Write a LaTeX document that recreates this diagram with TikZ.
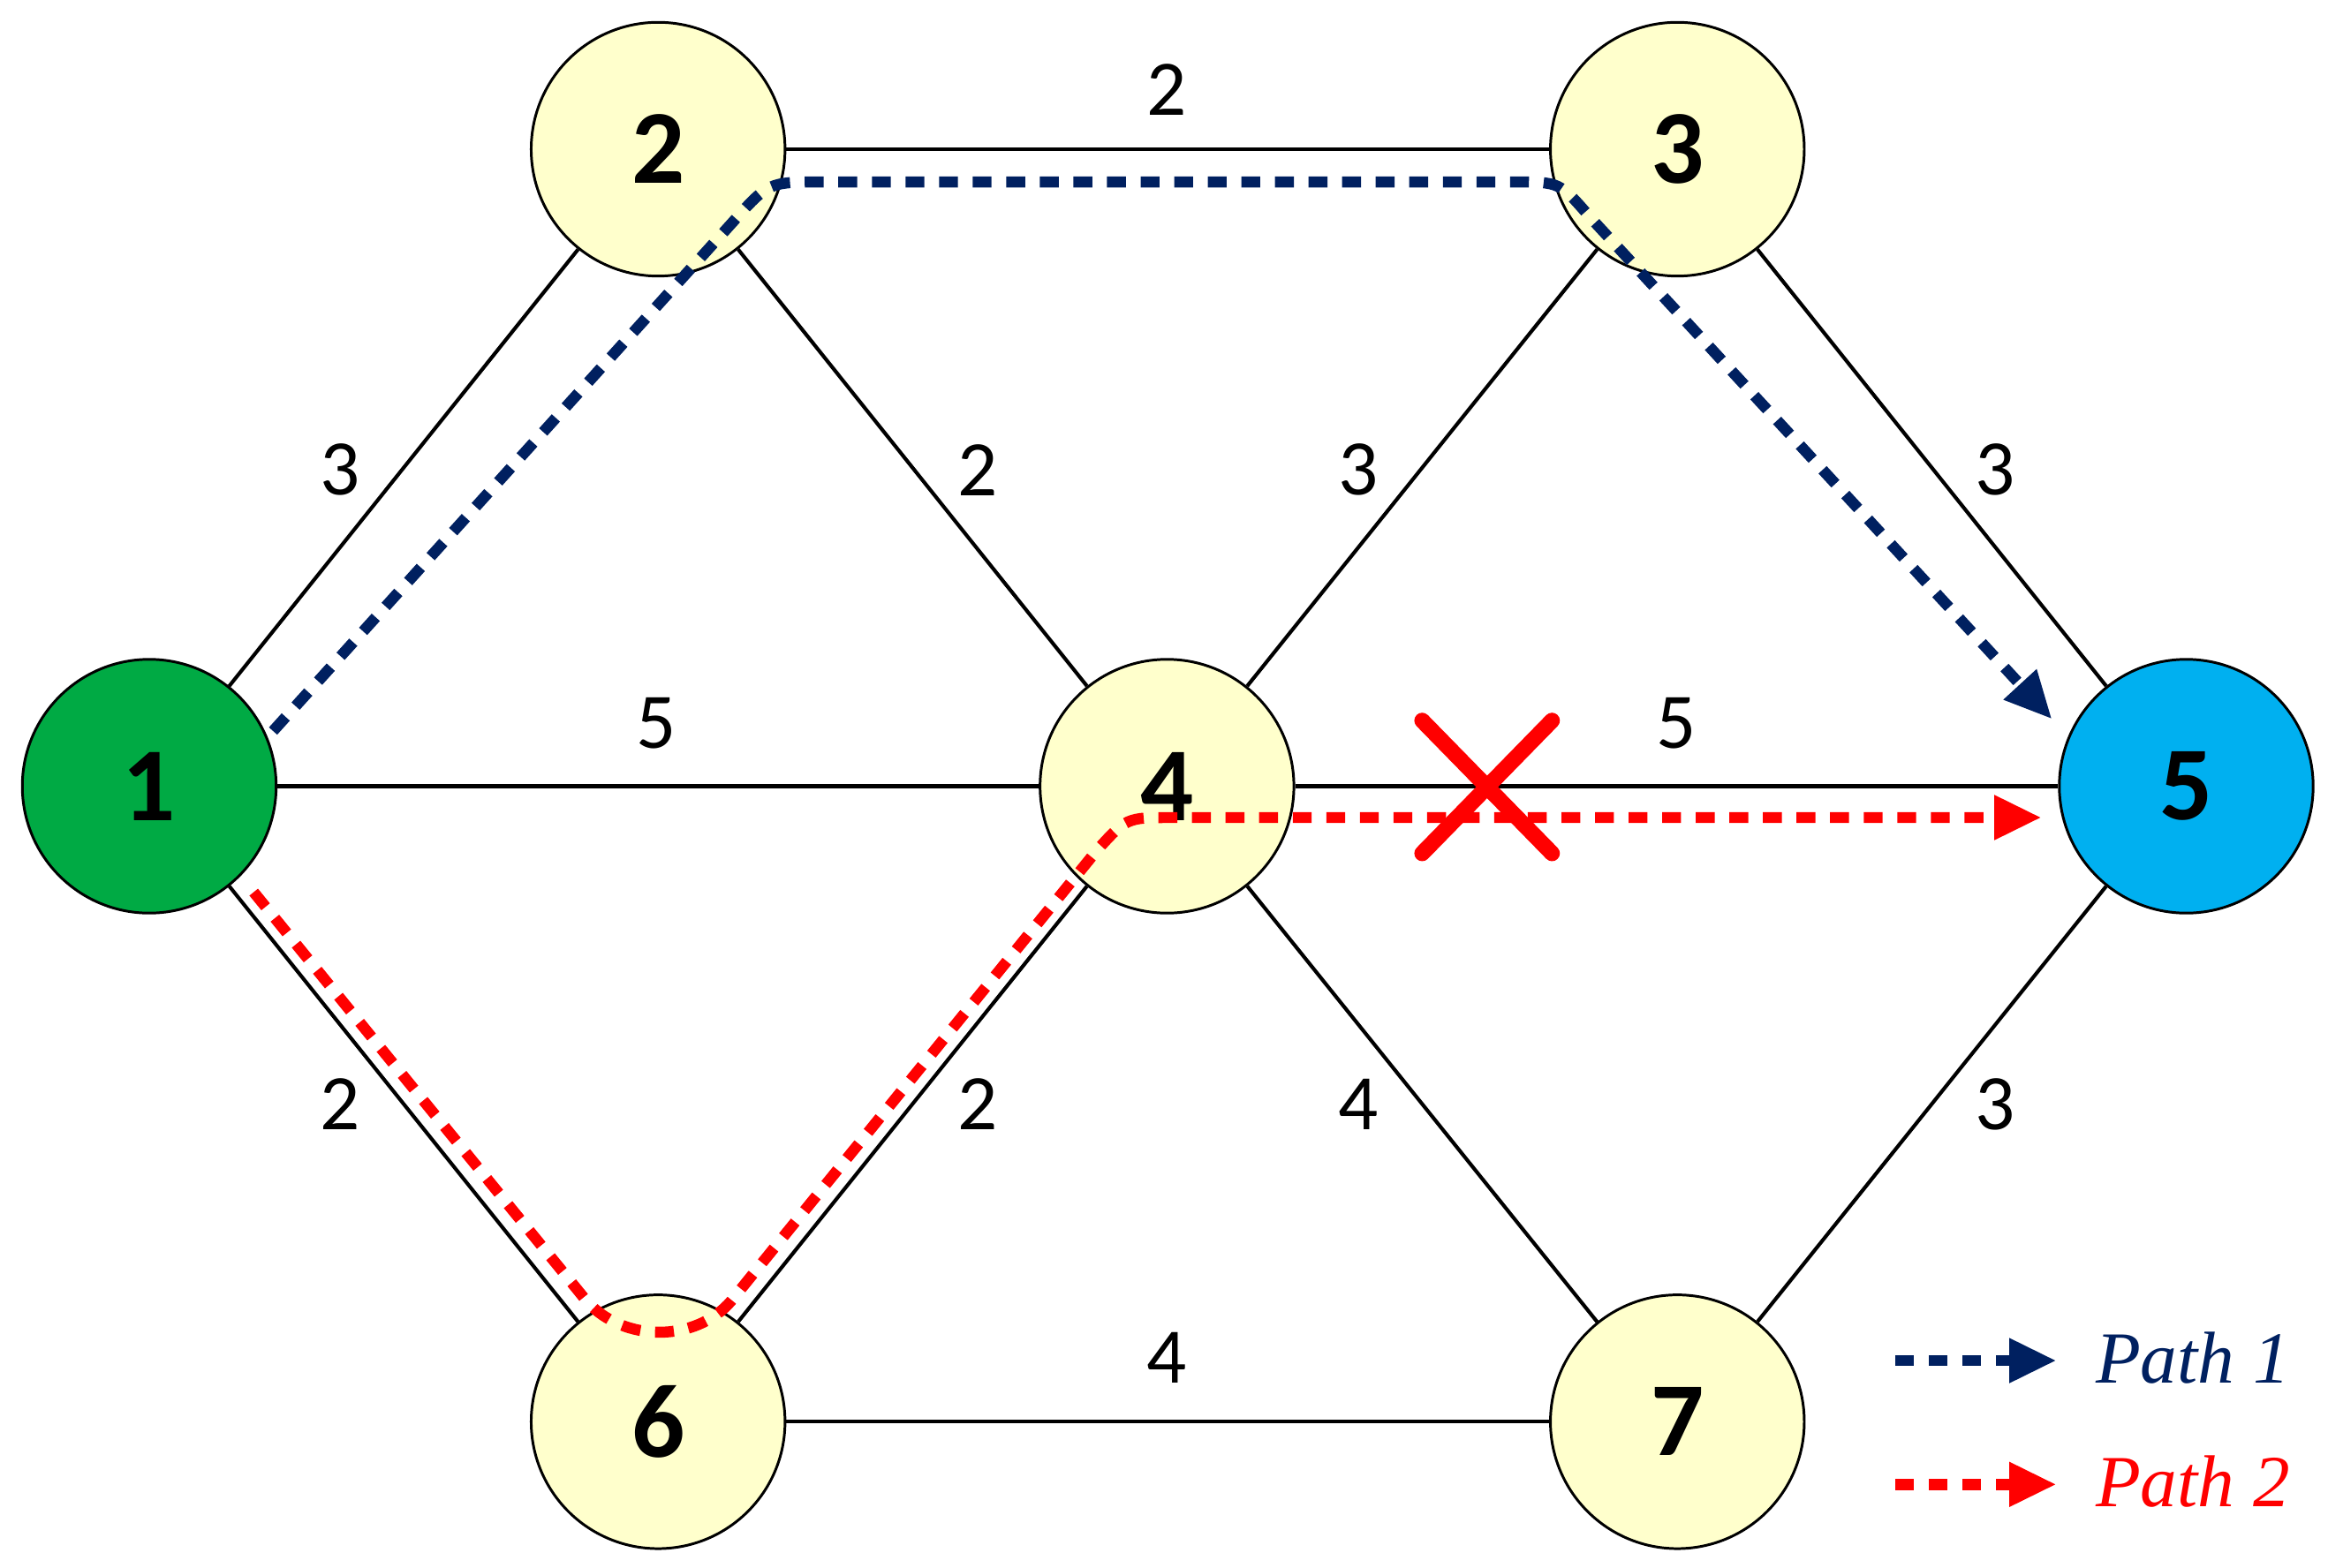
\documentclass[tikz,border=0pt]{standalone}
\usepackage{fontspec}
\setmainfont{Carlito}
\newfontfamily\legfont{Liberation Serif}
\usetikzlibrary{arrows.meta}
\definecolor{nodey}{RGB}{255,255,204}
\definecolor{ngreen}{RGB}{0,170,68}
\definecolor{nblue}{RGB}{0,176,240}
\definecolor{pblue}{RGB}{0,32,96}
\definecolor{pred}{RGB}{255,0,0}
\begin{document}
\begin{tikzpicture}[x={(0.01cm,0)},y={(0,-0.01cm)},
  nd/.style={circle,draw=black,line width=0.5pt,minimum size=1.7cm,inner sep=0pt,font=\fontsize{20}{22}\selectfont\bfseries},
  ed/.style={line width=0.7pt,black},
  lb/.style={font=\fontsize{15}{17}\selectfont},
  pth/.style={line width=2.1pt,dash pattern=on 3.6pt off 2.8pt},
  tip/.style={-{Triangle[length=9pt,width=8pt]}}]
\useasboundingbox (0,0) rectangle (1560,1051);
\node[nd,fill=ngreen] (n1) at (100,527) {1};
\node[nd,fill=nodey] (n2) at (441,100) {2};
\node[nd,fill=nodey] (n3) at (1124,100) {3};
\node[nd,fill=nodey] (n4) at (782,527) {4};
\node[nd,fill=nblue] (n5) at (1465,527) {5};
\node[nd,fill=nodey] (n6) at (441,953) {6};
\node[nd,fill=nodey] (n7) at (1124,953) {7};
\draw[ed] (n1)--(n2); \draw[ed] (n1)--(n4); \draw[ed] (n1)--(n6);
\draw[ed] (n2)--(n3); \draw[ed] (n2)--(n4);
\draw[ed] (n3)--(n4); \draw[ed] (n3)--(n5);
\draw[ed] (n4)--(n5); \draw[ed] (n4)--(n6); \draw[ed] (n4)--(n7);
\draw[ed] (n5)--(n7); \draw[ed] (n6)--(n7);
\node[lb] (l23) at (782,60) {2};
\node[lb] (l12) at (228,315) {3};
\node[lb] (l24) at (655,315) {2};
\node[lb] (l34) at (910,315) {3};
\node[lb] (l35) at (1337,315) {3};
\node[lb] (l14) at (440,485) {5};
\node[lb] (l45) at (1123,485) {5};
\node[lb] (l16) at (228,740) {2};
\node[lb] (l46) at (655,740) {2};
\node[lb] (l47) at (910,740) {4};
\node[lb] (l57) at (1337,740) {3};
\node[lb] (l67) at (782,910) {4};
% path 1
\coordinate (b0) at (183,490);
\coordinate (b1) at (490,150);
\coordinate (b1c) at (515,122);
\coordinate (b2) at (550,122);
\coordinate (b3) at (1015,122);
\coordinate (b3c) at (1045,122);
\coordinate (b4) at (1065,145);
\coordinate (b5) at (1375,482);
\draw[pth,pblue,tip] (b0)--(b1) .. controls (b1c) .. (b2) -- (b3) .. controls (b3c) .. (b4) -- (b5);
% path 2
\coordinate (r0) at (170,598);
\coordinate (r1) at (393,872);
\coordinate (r1c) at (418,900);
\coordinate (r2c) at (466,900);
\coordinate (r2) at (490,872);
\coordinate (r3) at (735,570);
\coordinate (r3c) at (755,548);
\coordinate (r4) at (785,548);
\coordinate (r5) at (1368,548);
\draw[pth,pred,tip] (r0)--(r1) .. controls (r1c) and (r2c) .. (r2) -- (r3) .. controls (r3c) .. (r4) -- (r5);
% X
\coordinate (x1) at (953,483); \coordinate (x2) at (1040,572);
\coordinate (x3) at (1040,483); \coordinate (x4) at (953,572);
\draw[pred,line width=3pt,line cap=round] (x1)--(x2);
\draw[pred,line width=3pt,line cap=round] (x3)--(x4);
% legend
\coordinate (la) at (1270,912); \coordinate (lb1) at (1378,912);
\coordinate (lc) at (1270,995); \coordinate (ld) at (1378,995);
\draw[pth,pblue,tip] (la)--(lb1);
\draw[pth,pred,tip] (lc)--(ld);
\node[anchor=west,text=pblue,font=\legfont\itshape\fontsize{14}{16}\selectfont] (t1) at (1392,910) {Path 1};
\node[anchor=west,text=pred,font=\legfont\itshape\fontsize{14}{16}\selectfont] (t2) at (1392,993) {Path 2};
\end{tikzpicture}
\end{document}
